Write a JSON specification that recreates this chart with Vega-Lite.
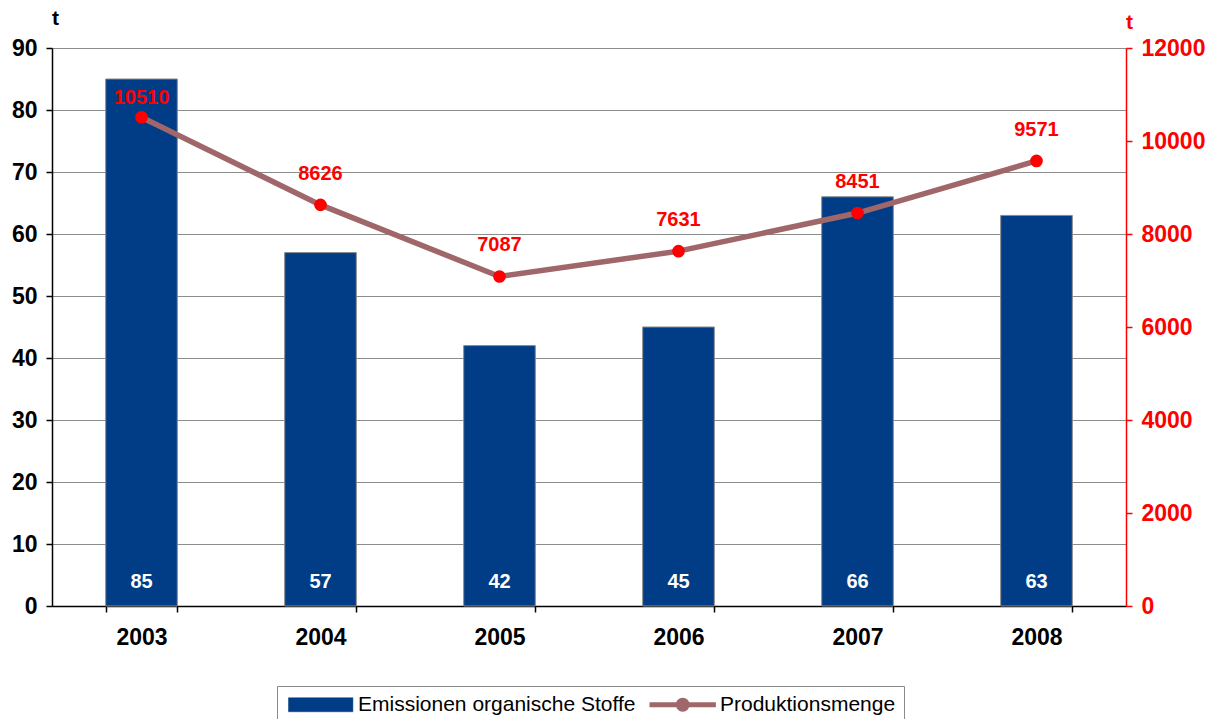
{
  "$schema": "https://vega.github.io/schema/vega-lite/v6.json",
  "width": 1074,
  "height": 558,
  "autosize": {"type": "none"},
  "padding": {"left": 52, "top": 48, "right": 89, "bottom": 113},
  "config": {"view": {"stroke": null}, "font": "Liberation Sans"},
  "data": {"values": [
    {"year": "2003", "emission": 85, "production": 10510},
    {"year": "2004", "emission": 57, "production": 8626},
    {"year": "2005", "emission": 42, "production": 7087},
    {"year": "2006", "emission": 45, "production": 7631},
    {"year": "2007", "emission": 66, "production": 8451},
    {"year": "2008", "emission": 63, "production": 9571}
  ]},
  "encoding": {
    "x": {
      "field": "year", "type": "ordinal",
      "scale": {"paddingInner": 0.6, "paddingOuter": 0.3},
      "axis": {
        "title": null, "labelAngle": 0, "labelFontSize": 23, "labelFontWeight": "bold",
        "labelColor": "black", "labelPadding": 14, "tickBand": "extent", "tickSize": 6,
        "tickColor": "black", "domainColor": "black", "domainWidth": 1.5, "tickWidth": 1.5, "grid": false
      }
    }
  },
  "layer": [
    {
      "encoding": {
        "y": {
          "type": "quantitative",
          "scale": {"domain": [0, 90], "nice": false},
          "axis": {
            "title": "t", "titleAngle": 0, "titleAlign": "center", "titleBaseline": "alphabetic",
            "titleX": 3, "titleY": -24, "titleFontSize": 21, "titleFontWeight": "bold", "titleColor": "black",
            "values": [0, 10, 20, 30, 40, 50, 60, 70, 80, 90],
            "labelFontSize": 23, "labelFontWeight": "bold", "labelColor": "black", "labelPadding": 9,
            "tickSize": 6, "tickColor": "black", "domainColor": "black", "domainWidth": 1.5, "tickWidth": 1.5,
            "grid": true, "gridColor": "#8c8c8c", "gridWidth": 1
          }
        }
      },
      "layer": [
        {
          "mark": {"type": "bar", "stroke": "#8a8a8a", "strokeWidth": 1},
          "encoding": {
            "y": {"field": "emission"},
            "color": {
              "datum": "Emissionen organische Stoffe",
              "scale": {"domain": ["Emissionen organische Stoffe", "Produktionsmenge"], "range": ["#003d86", "#a0676a"]},
              "legend": {
                "orient": "none", "legendX": 225, "legendY": 638, "direction": "horizontal", "title": null,
                "strokeColor": "#8a8a8a", "fillColor": "white", "padding": 8,
                "labelFontSize": 21, "labelFont": "Liberation Sans", "labelColor": "black", "labelLimit": 500,
                "symbolType": {"expr": "datum && datum.value === 'Produktionsmenge' ? 'M-1,-0.21H2.78V0.21H-1Z M4.42,-0.21H8.2V0.21H4.42Z M2.75,0A0.85,0.85 0 1,1 4.45,0A0.85,0.85 0 1,1 2.75,0Z' : 'M-1,-1H8.2V1H-1Z'"},
                "symbolFillColor": {"expr": "datum && datum.value === 'Produktionsmenge' ? '#ff0000' : '#003d86'"},
                "symbolStrokeColor": {"expr": "datum && datum.value === 'Produktionsmenge' ? '#a0676a' : '#8a8a8a'"},
                "symbolStrokeWidth": {"expr": "datum && datum.value === 'Produktionsmenge' ? 2 : 0.5"},
                "symbolSize": 196, "labelOffset": 52, "columnPadding": 10, "symbolOpacity": 1
              }
            }
          }
        },
        {
          "mark": {"type": "text", "color": "white", "fontSize": 20, "fontWeight": "bold", "baseline": "middle", "dy": -24},
          "encoding": {
            "y": {"datum": 0},
            "text": {"field": "emission", "type": "quantitative"}
          }
        }
      ]
    },
    {
      "encoding": {
        "y": {
          "type": "quantitative",
          "scale": {"domain": [0, 12000], "nice": false},
          "axis": {
            "orient": "right",
            "title": "t", "titleAngle": 0, "titleAlign": "center", "titleBaseline": "alphabetic",
            "titleX": 3, "titleY": -20, "titleFontSize": 21, "titleFontWeight": "bold", "titleColor": "#ff0000",
            "values": [0, 2000, 4000, 6000, 8000, 10000, 12000], "format": "d",
            "labelFontSize": 23, "labelFontWeight": "bold", "labelColor": "#ff0000", "labelPadding": 9,
            "tickSize": 6, "tickColor": "#ff0000", "domainColor": "#ff0000", "domainWidth": 1.5, "tickWidth": 1.5,
            "grid": false
          }
        }
      },
      "layer": [
        {
          "mark": {"type": "line", "strokeWidth": 5.5},
          "encoding": {
            "y": {"field": "production"},
            "color": {"datum": "Produktionsmenge"}
          }
        },
        {
          "mark": {"type": "point", "filled": true, "color": "#ff0000", "opacity": 1, "size": 160},
          "encoding": {"y": {"field": "production"}}
        },
        {
          "transform": [{"filter": "datum.year !== '2003'"}],
          "mark": {"type": "text", "color": "#ff0000", "fontSize": 20, "fontWeight": "bold", "baseline": "middle", "dy": -31},
          "encoding": {
            "y": {"field": "production"},
            "text": {"field": "production", "type": "quantitative", "format": "d"}
          }
        },
        {
          "transform": [{"filter": "datum.year === '2003'"}],
          "mark": {"type": "text", "color": "#ff0000", "fontSize": 20, "fontWeight": "bold", "baseline": "middle", "dy": -19},
          "encoding": {
            "y": {"field": "production"},
            "text": {"field": "production", "type": "quantitative", "format": "d"}
          }
        }
      ]
    }
  ],
  "resolve": {"scale": {"y": "independent"}}
}
